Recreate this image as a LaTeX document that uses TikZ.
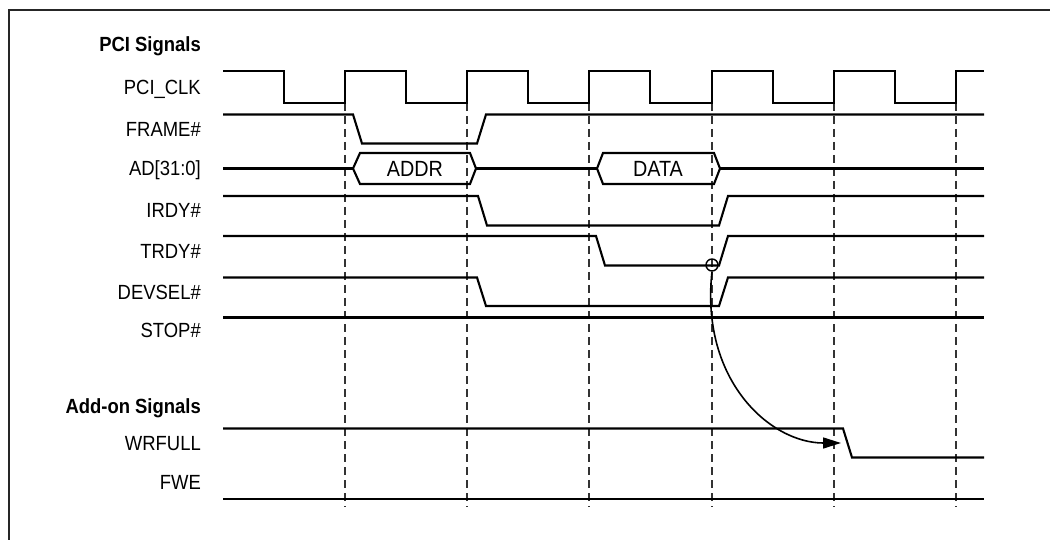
\documentclass[tikz,border=0pt]{standalone}
\usepackage{fontspec}
\setmainfont{Liberation Sans}[FakeStretch=0.9]
\usetikzlibrary{arrows.meta}
\newcommand\lblfont{\fontsize{20.5}{24}\selectfont}
\tikzset{sig/.style={line width=2.1pt,line join=miter}  }
\tikzset{tick/.style={black!80,line width=1.2pt,dash pattern=on 8pt off 5pt}  }
\tikzset{lbl/.style={anchor=base east,inner sep=0pt,font=\lblfont}  }
\tikzset{bus/.style={anchor=base,inner sep=0pt,font=\fontsize{22}{26}\selectfont}  }
\tikzset{>={Triangle[length=18pt,width=11pt]}}

\begin{document}
\begin{tikzpicture}[x=1pt,y=-1pt]
	\useasboundingbox (0,0) rectangle (1050,540);
	\draw[black!85,line width=2pt] (1060,10) -| (9,560);

		% labels
		\node[lbl,font=\lblfont\bfseries] (pci) at (201,51.5) {PCI Signals};
		\node[lbl] (clk) at (201,95) {PCI\_CLK};
		\node[lbl] (frame) at (201,136.5) {FRAME\#};
		\node[lbl] (ad) at (201,176) {AD[31:0]};
		\node[lbl] (irdy) at (201,218) {IRDY\#};
		\node[lbl] (trdy) at (201,259) {TRDY\#};
		\node[lbl] (devsel) at (201,299.5) {DEVSEL\#};
		\node[lbl] (stop) at (201,337.5) {STOP\#};
		\node[lbl,font=\lblfont\bfseries] (addon) at (201,413.5) {Add-on Signals};
		\node[lbl] (wrfull) at (201,450) {WRFULL};
		\node[lbl] (fwe) at (201,489) {FWE};

	\draw[tick] (345,103) -- (345,507) (467,103) -- (467,507) (589,103) -- (589,507)
		(712,103) -- (712,507) (834,103) -- (834,507) (956,103) -- (956,507);

	\draw[sig] (223,71) -| (284,103) -| (345,71) -| (406,103) -| (467,71) -| (528,103) -| (589,71)
		-| (650,103) -| (712,71) -| (773,103) -| (834,71) -| (895,103) -| (956,71) -- (984,71);
	\draw[sig] (223,114.5) -- (353,114.5) -- (362,143.5) -- (477,143.5) -- (486,114.5) -- (984,114.5);
	\draw[sig] (223,168.5) -- (353,168.5) (476,168.5) -- (597,168.5) (720,168.5) -- (984,168.5);
	\draw[sig] (353,168.5) -- (360,153) -- (470,153) -- (476,168.5) -- (470,184) -- (360,184) -- cycle;
	\draw[sig] (597,168.5) -- (603,153) -- (714,153) -- (720,168.5) -- (714,184) -- (603,184) -- cycle;
				\node[bus] (addr) at (415,176.5) {ADDR};
				\node[bus] (data) at (658,176.5) {DATA};
	\draw[sig] (223,196) -- (478,196) -- (487,225.5) -- (719,225.5) -- (728,196) -- (984,196);
	\draw[sig] (223,236) -- (596,236) -- (605,265.5) -- (719,265.5) -- (728,236) -- (984,236);
	\draw[sig] (223,277.5) -- (477,277.5) -- (486,306) -- (719,306) -- (728,277.5) -- (984,277.5);
	\draw[sig] (223,317.5) -- (984,317.5);
	\draw[sig] (223,428.5) -- (843,428.5) -- (852,457.5) -- (984,457.5);
	\draw[sig] (223,499) -- (984,499);

		\node[draw,circle,minimum size=12pt,inner sep=0pt,line width=1.4pt] (hit) at (712,265) {};
		\coordinate (fill) at (841,443);
			\draw[->,line width=1.6pt] (hit.south) .. controls (700,380) and (770,443) .. (fill);
\end{tikzpicture}
\end{document}
